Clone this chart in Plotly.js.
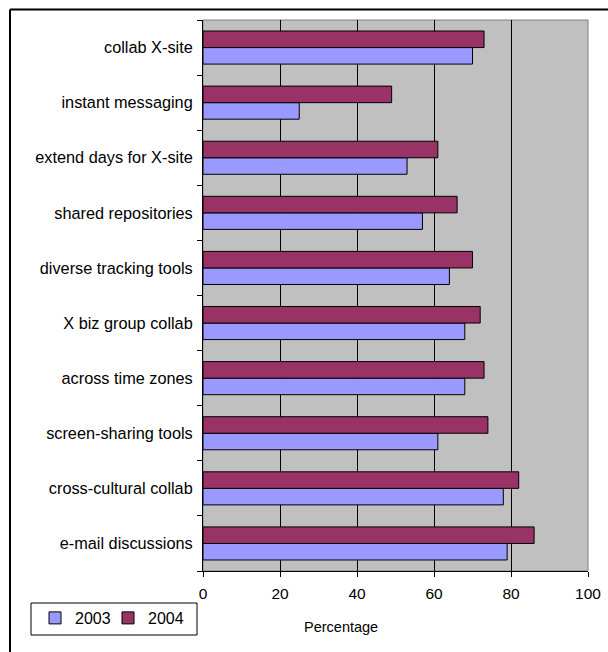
<!DOCTYPE html>
<html>
<head>
<meta charset="utf-8">
<script src="https://cdn.plot.ly/plotly-3.0.1.min.js"></script>
<style>html,body{margin:0;padding:0;background:#fff;}#chart{width:608px;height:652px;}</style>
</head>
<body>
<div id="chart"></div>
<script>
// Categories listed bottom to top as drawn
const categories = [
  "e-mail discussions",
  "cross-cultural collab",
  "screen-sharing tools",
  "across time zones",
  "X biz group collab",
  "diverse tracking tools",
  "shared repositories",
  "extend days for X-site",
  "instant messaging",
  "collab X-site"
];
const values2003 = [79, 78, 61, 68, 68, 64, 57, 53, 25, 70];
const values2004 = [86, 82, 74, 73, 72, 70, 66, 61, 49, 73];
const seriesNames = ["2003", "2004"];
const xTicks = [0, 20, 40, 60, 80, 100];
const xTitle = "Percentage";

const FONT = "Liberation Sans, Arial, sans-serif";

const traces = [
  {
    type: "bar", orientation: "h", name: seriesNames[0], legend: "legend",
    y: categories, x: values2003,
    marker: {color: "#9999FF", line: {color: "#000000", width: 1}}
  },
  {
    type: "bar", orientation: "h", name: seriesNames[1], legend: "legend2",
    y: categories, x: values2004,
    marker: {color: "#993366", line: {color: "#000000", width: 1}}
  }
];

const px = v => (v - 203) / 385;   // pixel x -> paper x
const py = v => (571 - v) / 551;   // pixel y -> paper y

const legendBase = {
  orientation: "h",
  xanchor: "left",
  y: py(601), yanchor: "top",
  bgcolor: "rgba(0,0,0,0)",
  borderwidth: 0,
  font: {family: FONT, size: 16, color: "#000000"},
  itemwidth: 30
};

const layout = {
  width: 608, height: 652,
  margin: {l: 203, r: 20, t: 20, b: 81, pad: 0},
  paper_bgcolor: "#ffffff",
  plot_bgcolor: "#C0C0C0",
  barmode: "group",
  bargap: 0.4,
  bargroupgap: 0,
  showlegend: true,
  font: {family: FONT, size: 15, color: "#000000"},
  xaxis: {
    range: [0, 100],
    tickvals: xTicks,
    ticktext: xTicks.map(String),
    showgrid: true, gridcolor: "#000000", gridwidth: 1,
    zeroline: false,
    showline: true, linecolor: "#000000", linewidth: 1,
    ticks: "outside", ticklen: 5, tickcolor: "#000000",
    ticklabelstandoff: 3,
    tickfont: {family: FONT, size: 15.5, color: "#000000"},
    fixedrange: true
  },
  yaxis: {
    type: "category",
    categoryorder: "array", categoryarray: categories,
    showgrid: false, zeroline: false,
    showline: true, linecolor: "#000000", linewidth: 1,
    ticks: "outside", ticklen: 5, tickcolor: "#000000",
    tickson: "boundaries",
    ticklabelstandoff: 6,
    tickfont: {family: FONT, size: 16.3, color: "#000000"},
    fixedrange: true
  },
  legend: Object.assign({}, legendBase, {x: px(35)}),
  legend2: Object.assign({}, legendBase, {x: px(108)}),
  annotations: [
    {
      text: xTitle, xref: "paper", yref: "paper",
      x: px(341), y: py(627),
      xanchor: "center", yanchor: "middle", showarrow: false,
      font: {family: FONT, size: 14.5, color: "#000000"}
    }
  ],
  shapes: [
    {
      type: "rect", xref: "paper", yref: "paper", layer: "below",
      x0: 0, x1: 1, y0: 0, y1: 1,
      line: {color: "#808080", width: 1}
    },
    {
      type: "rect", xref: "paper", yref: "paper", layer: "above",
      x0: px(31), x1: px(197), y0: py(635), y1: py(603),
      fillcolor: "#ffffff",
      line: {color: "#000000", width: 1}
    },
    {
      type: "line", xref: "paper", yref: "paper",
      x0: px(10), x1: px(10), y0: py(660), y1: py(9.5),
      line: {color: "#000000", width: 2}
    },
    {
      type: "line", xref: "paper", yref: "paper",
      x0: px(10), x1: px(620), y0: py(9.5), y1: py(9.5),
      line: {color: "#000000", width: 2}
    }
  ]
};

Plotly.newPlot("chart", traces, layout, {displayModeBar: false, staticPlot: true});
</script>
</body>
</html>
